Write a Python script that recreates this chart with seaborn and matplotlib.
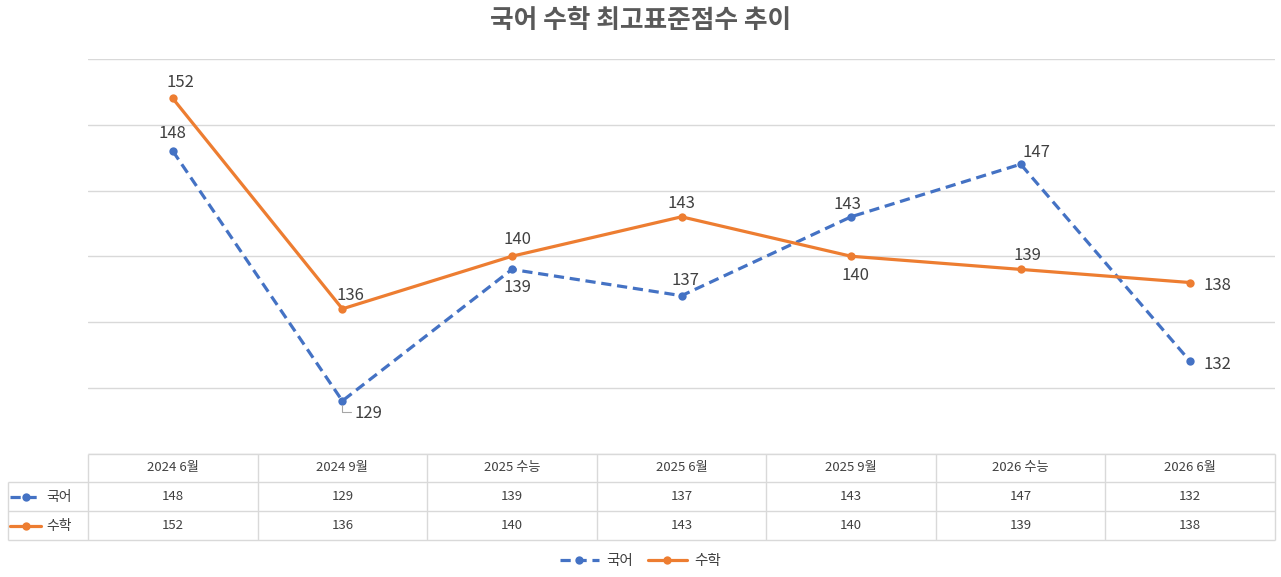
import numpy as np
import pandas as pd
import matplotlib
matplotlib.use("Agg")
import matplotlib.pyplot as plt
from matplotlib.lines import Line2D
import seaborn as sns

sns.set_theme(style="white")
plt.rcParams['font.family'] = ['Noto Sans CJK KR', 'DejaVu Sans']

# ------------------------------------------------------------
# data
# ------------------------------------------------------------
categories = ['2024 6월', '2024 9월', '2025 수능', '2025 6월', '2025 9월', '2026 수능', '2026 6월']
korean = [148, 129, 139, 137, 143, 147, 132]
math = [152, 136, 140, 143, 140, 139, 138]
series_names = ['국어', '수학']
title = '국어 수학 최고표준점수 추이'

# label offsets (pixels) for each data label
kor_offsets = [(0, 18), (26, -13), (6, -18), (4, 15), (-4, 12), (16, 12), (27, -3)]
math_offsets = [(8, 16), (8, 13), (6, 17), (0, 13), (4, -19), (7, 14), (27, -3)]

BLUE = '#4472C4'
ORANGE = '#ED7D31'
GRID = '#D9D9D9'
TXT = '#404040'

df = pd.DataFrame({'x': list(range(len(categories))) * 2,
                   'score': korean + math,
                   'subject': [series_names[0]] * len(korean) + [series_names[1]] * len(math)})

W, H = 1281, 577
fig = plt.figure(figsize=(W / 100, H / 100), dpi=100)

def fx(px):
    return px / W

def fy(py):
    return 1 - py / H

# plot area
left_px, right_px, top_px, bot_px = 88, 1275, 59, 453.5
ax = fig.add_axes([fx(left_px), fy(bot_px), fx(right_px - left_px), fy(top_px) - fy(bot_px)])

sns.lineplot(data=df, x='x', y='score', hue='subject', style='subject',
             palette=[BLUE, ORANGE], dashes={'국어': (3.2, 1.8), '수학': ''},
             markers={'국어': 'o', '수학': 'o'}, markersize=6, markeredgewidth=0,
             linewidth=2.3, ax=ax, legend=False)

ax.set_xlim(-0.5, len(categories) - 0.5)
ax.set_ylim(125, 155)
ax.set_yticks(np.arange(125, 156, 5))
ax.yaxis.grid(True, color=GRID, linewidth=1)
ax.set_xticks([])
ax.tick_params(left=False, labelleft=False)
ax.set_xlabel('')
ax.set_ylabel('')
for s in ax.spines.values():
    s.set_visible(False)

# data labels
for vals, offs in [(korean, kor_offsets), (math, math_offsets)]:
    for i, (v, o) in enumerate(zip(vals, offs)):
        ax.annotate(str(v), (i, v), xytext=o, textcoords='offset pixels',
                    ha='center', va='center', fontsize=12, color=TXT)

# leader line for 129
ax.annotate('', (1, korean[1]), xytext=(9, -11), textcoords='offset pixels',
            arrowprops=dict(arrowstyle='-', color='#A6A6A6', lw=0.8,
                            connectionstyle='angle,angleA=0,angleB=90,rad=0',
                            shrinkA=0, shrinkB=3))

# ------------------------------------------------------------
# data table under the chart
# ------------------------------------------------------------
tleft_px, ttop_px, tbot_px = 8, 453.5, 540
colw = (right_px - left_px) / len(categories)
x0 = -0.5 - (left_px - tleft_px) / colw
tax = fig.add_axes([fx(tleft_px), fy(tbot_px), fx(right_px - tleft_px), fy(ttop_px) - fy(tbot_px)])
tax.set_xlim(x0, len(categories) - 0.5)
tax.set_ylim(3, 0)
tax.axis('off')

lc = dict(color=GRID, lw=1, solid_capstyle='butt')
tax.plot([-0.5, len(categories) - 0.5], [0, 0], **lc)
for yy in [1, 2, 3]:
    tax.plot([x0, len(categories) - 0.5], [yy, yy], **lc)
for xx in np.arange(-0.5, len(categories), 1.0):
    tax.plot([xx, xx], [0, 3], **lc)
tax.plot([x0, x0], [1, 3], **lc)
for l in tax.lines:
    l.set_clip_on(False)

for i, c in enumerate(categories):
    tax.text(i, 0.5, c, ha='center', va='center', fontsize=9.5, color=TXT)
    tax.text(i, 1.5, str(korean[i]), ha='center', va='center', fontsize=9.5, color=TXT)
    tax.text(i, 2.5, str(math[i]), ha='center', va='center', fontsize=9.5, color=TXT)

# legend keys inside table
for row, (name, col, dash) in enumerate([(series_names[0], BLUE, (3.2, 1.8)), (series_names[1], ORANGE, None)]):
    yrow = 1.5 + row
    xa, xb = x0 + 2 / colw, x0 + 33 / colw
    ln = Line2D([xa, xb], [yrow, yrow], color=col, lw=2.3)
    if dash:
        ln.set_dashes(dash)
    tax.add_line(ln)
    tax.plot([(xa + xb) / 2], [yrow], 'o', color=col, markersize=6, markeredgewidth=0)
    tax.text(x0 + 38 / colw, yrow, name, ha='left', va='center', fontsize=10, color=TXT)

# ------------------------------------------------------------
# bottom legend and title
# ------------------------------------------------------------
h1 = Line2D([], [], color=BLUE, lw=2.3, dashes=(3.2, 1.8), marker='o', markersize=6, markeredgewidth=0)
h2 = Line2D([], [], color=ORANGE, lw=2.3, marker='o', markersize=6, markeredgewidth=0)
fig.legend([h1, h2], series_names, loc='center', bbox_to_anchor=(0.5, fy(561)), ncol=2,
           frameon=False, fontsize=10.5, handlelength=2.7, columnspacing=1.0, handletextpad=0.5,
           labelcolor=TXT)

fig.text(0.5, fy(20), title, ha='center', va='center', fontsize=18.5, fontweight='bold', color='#595959')

fig.savefig('out.png', dpi=100, facecolor='white')
